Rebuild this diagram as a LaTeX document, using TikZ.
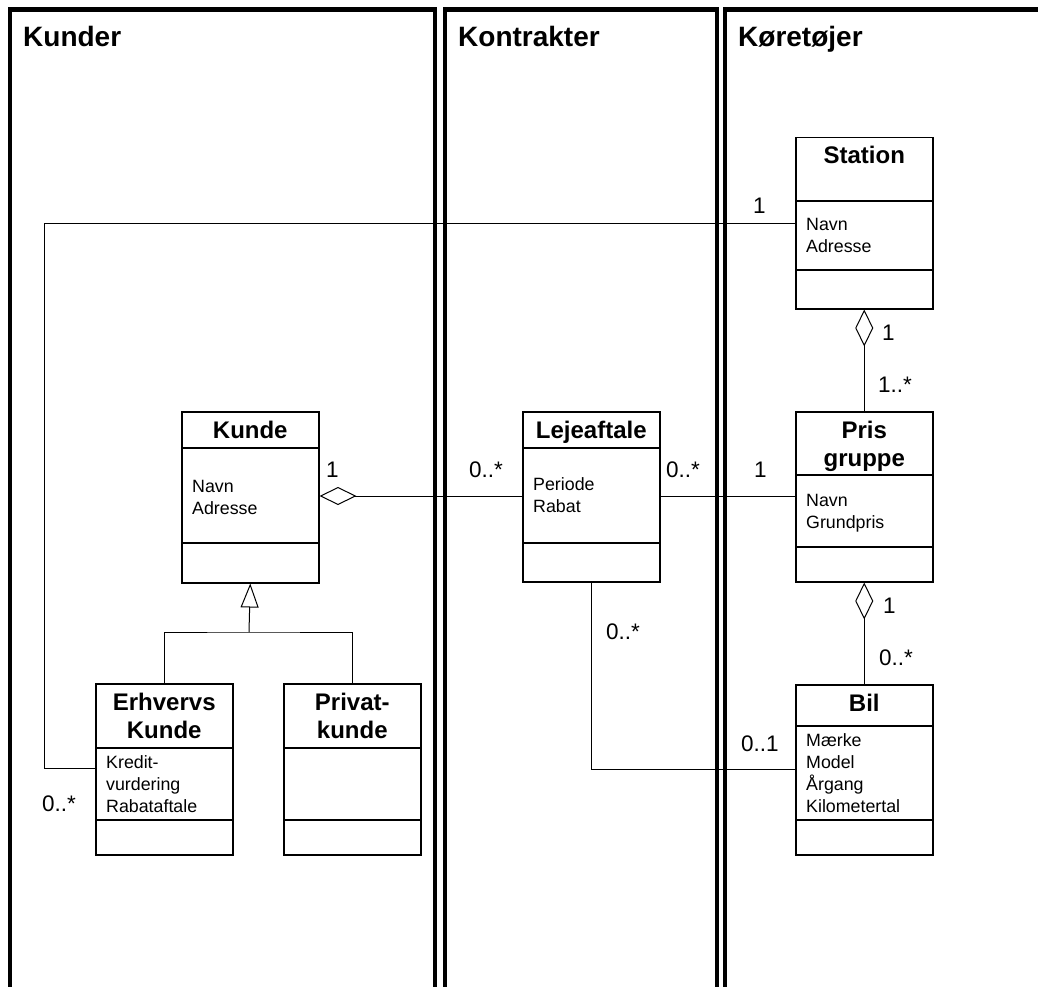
\documentclass[tikz,border=0pt]{standalone}
\usepackage{fontspec}
\setmainfont{Liberation Sans}
\usetikzlibrary{arrows.meta,calc}
\tikzset{
  classbox/.style={draw, line width=1.5pt, minimum width=137pt, inner sep=0pt, fill=white},
  sepline/.style={line width=1.3pt},
  conn/.style={line width=1pt},
  agg/.style={conn, -{Diamond[open,length=37pt,width=18pt]}},
  gen/.style={conn, -{Triangle[open,length=24pt,width=18pt]}},
  titletext/.style={inner sep=0pt, font=\bfseries\fontsize{24}{28}\selectfont},
  attrtext/.style={inner sep=0pt, font=\fontsize{17.8}{22}\selectfont},
  mult/.style={inner sep=0pt, anchor=base west, font=\fontsize{22.5}{26}\selectfont},
  panel/.style={line width=4.5pt, line join=miter},
  paneltitle/.style={inner sep=0pt, anchor=base west, font=\bfseries\fontsize{28}{32}\selectfont},
}
% #1 name, #2 x, #3 top, #4 height, #5 sep1, #6 sep2, #7 attr baseline, #8 title lines, #9 attr lines
\newcommand\umlclass[9]{%
  \node[classbox, minimum height=#4pt, anchor=north west] (#1) at (#2,#3) {};
  \draw[sepline] ([yshift=-#5pt]#1.north west) -- ([yshift=-#5pt]#1.north east);
  \draw[sepline] ([yshift=-#6pt]#1.north west) -- ([yshift=-#6pt]#1.north east);
  \foreach \ttxt [count=\i] in {#8} {
    \node[titletext, anchor=base] (#1-t\i) at ([yshift={-27pt-(\i-1)*28pt}]#1.north) {\ttxt};
  }
  \foreach \atxt [count=\i] in {#9} {
    \node[attrtext, anchor=base west] (#1-a\i) at ([xshift=11pt, yshift={-#7pt-(\i-1)*22pt}]#1.north west) {\atxt};
  }
}
\begin{document}
\begin{tikzpicture}[x=1pt, y=-1pt]
\useasboundingbox (0,0) rectangle (1038,987);
\clip (0,0) rectangle (1038,987);
\fill[white] (0,0) rectangle (1038,987);

% panels
\draw[panel] (10,1000) -- (10,9.5) -- (435,9.5) -- (435,1000);
\draw[panel] (445,1000) -- (445,9.5) -- (717,9.5) -- (717,1000);
\draw[panel] (725,1000) -- (725,9.5) -- (1050,9.5);
\node[paneltitle] (p1) at (23,47) {Kunder};
\node[paneltitle] (p2) at (458,47) {Kontrakter};
\node[paneltitle] (p3) at (738,47) {Køretøjer};

% classes
\umlclass{station}{795}{137}{171}{64}{133}{93}{Station}{Navn,Adresse}
\umlclass{kunde}{181}{411}{171}{37}{132}{81}{Kunde}{Navn,Adresse}
\umlclass{leje}{522}{411}{170}{37}{132}{79}{Lejeaftale}{Periode,Rabat}
\umlclass{pris}{795}{411}{170}{64}{136}{95}{Pris,gruppe}{Navn,Grundpris}
\umlclass{bil}{795}{684}{170}{42}{136}{62}{Bil}{Mærke,Model,Årgang,Kilometertal}
\umlclass{erhv}{95}{683}{171}{65}{137}{85}{Erhvervs,Kunde}{Kredit-,vurdering,Rabataftale}
\umlclass{privat}{283}{683}{171}{65}{137}{85}{Privat-,kunde}{}

% connectors
\draw[conn] ([yshift=-85pt]erhv.north west) -| (44,223) -- ([yshift=-86pt]station.north west);
\draw[agg] ([yshift=-85pt]leje.north west) -- ([yshift=-85pt]kunde.north east);
\draw[conn] ([yshift=-85pt]leje.north east) -- ([yshift=-85pt]pris.north west);
\draw[agg] (pris.north) -- (station.south);
\draw[agg] (bil.north) -- (pris.south);
\coordinate (genbar) at (249,632);
\draw[conn] (erhv.north) |- (genbar) -| (privat.north);
\draw[gen] (genbar) -- (kunde.south);
\draw[conn] (leje.south) |- ([yshift=-85pt]bil.north west);

% multiplicities
\node[mult] (m1) at (753,213) {1};
\node[mult] (m2) at (882,340) {1};
\node[mult] (m3) at (878,392) {1..*};
\node[mult] (m4) at (326,477) {1};
\node[mult] (m5) at (469,477) {0..*};
\node[mult] (m6) at (666,477) {0..*};
\node[mult] (m7) at (754,477) {1};
\node[mult] (m8) at (883,613) {1};
\node[mult] (m9) at (879,665) {0..*};
\node[mult] (m10) at (606,639) {0..*};
\node[mult] (m11) at (741,751) {0..1};
\node[mult] (m12) at (42,811) {0..*};
\end{tikzpicture}
\end{document}
